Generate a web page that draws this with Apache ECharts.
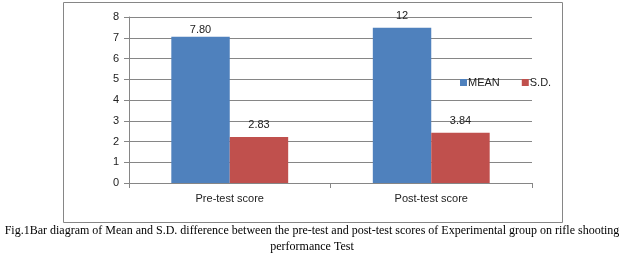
<!DOCTYPE html>
<html>
<head>
<meta charset="utf-8">
<script src="https://cdn.jsdelivr.net/npm/echarts@6/dist/echarts.min.js"></script>
<style>
html,body{margin:0;padding:0;background:#fff;}
#c{width:624px;height:262px;}
</style>
</head>
<body>
<div id="c"></div>
<script>
var categories = ['Pre-test score', 'Post-test score'];
var meanValues = [7.05, 7.48];
var sdValues = [2.22, 2.42];
var meanLabels = ['7.80', '12'];
var sdLabels = ['2.83', '3.84'];
var yTicks = [0, 1, 2, 3, 4, 5, 6, 7, 8];
var captionLines = [
  'Fig.1Bar diagram of Mean and S.D. difference between the pre-test and post-test scores of Experimental group on rifle shooting',
  'performance Test'
];

var chart = echarts.init(document.getElementById('c'), null, {renderer: 'canvas'});
var font = 'Liberation Sans';
var meanDist = [1, 6];
var sdDist = [6, 6];

function buildData(vals, labels, dists) {
  return vals.map(function (v, i) {
    return {value: v, label: {formatter: labels[i], distance: dists[i]}};
  });
}

chart.setOption({
  animation: false,
  textStyle: {fontFamily: font},
  grid: {left: 129, right: 92, top: 17, bottom: 79, containLabel: false},
  legend: {
    data: ['MEAN', 'S.D.'],
    left: 455, top: 72,
    itemWidth: 7, itemHeight: 7, itemGap: 22,
    icon: 'rect',
    textStyle: {fontFamily: font, fontSize: 11, color: '#222', padding: [0, 0, 0, -4]}
  },
  xAxis: {
    type: 'category',
    data: categories,
    axisLine: {lineStyle: {color: '#868686'}},
    axisTick: {show: true, alignWithLabel: false, length: 5, lineStyle: {color: '#868686'}},
    axisLabel: {fontFamily: font, fontSize: 11, color: '#222', margin: 10}
  },
  yAxis: {
    type: 'value',
    min: yTicks[0], max: yTicks[yTicks.length - 1], interval: 1,
    axisLine: {show: true, lineStyle: {color: '#868686'}},
    axisTick: {show: true, length: 5, lineStyle: {color: '#868686'}},
    splitLine: {lineStyle: {color: '#868686'}},
    axisLabel: {fontFamily: font, fontSize: 11, color: '#222', margin: 10}
  },
  series: [
    {
      name: 'MEAN', type: 'bar',
      data: buildData(meanValues, meanLabels, meanDist),
      itemStyle: {color: '#4F81BD'},
      barGap: '0%', barCategoryGap: '42%',
      label: {show: true, position: 'top', fontFamily: font, fontSize: 11, color: '#222'}
    },
    {
      name: 'S.D.', type: 'bar',
      data: buildData(sdValues, sdLabels, sdDist),
      itemStyle: {color: '#C0504D'},
      label: {show: true, position: 'top', fontFamily: font, fontSize: 11, color: '#222'}
    }
  ],
  graphic: [
    {type: 'rect', shape: {x: 63.5, y: 2.5, width: 499, height: 220}, style: {fill: 'none', stroke: '#868686', lineWidth: 1}, z: -1},
    {type: 'text', left: 'center', top: 225, style: {text: captionLines[0], font: '12px "Liberation Serif"', fill: '#000'}},
    {type: 'text', left: 'center', top: 241, style: {text: captionLines[1], font: '12px "Liberation Serif"', fill: '#000'}}
  ]
});
</script>
</body>
</html>
